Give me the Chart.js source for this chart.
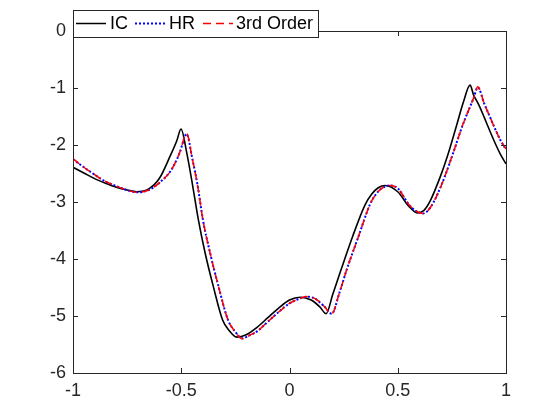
<html>
<script src="https://cdn.jsdelivr.net/npm/chart.js@4.4.0/dist/chart.umd.min.js"></script>
<body style="margin:0;background:#fff">
<div style="width:560px;height:420px"><canvas id="myChart"></canvas></div>
<script>
// tick values and labels
const xTicks = [-1, -0.5, 0, 0.5, 1];
const xTickLabels = ['-1', '-0.5', '0', '0.5', '1'];
const yTicks = [-6, -5, -4, -3, -2, -1, 0];
const yTickLabels = ['-6', '-5', '-4', '-3', '-2', '-1', '0'];

// IC (black solid)
const xIC = [-1, -0.95, -0.9, -0.85, -0.8, -0.75, -0.706, -0.65, -0.6, -0.552, -0.521, -0.501, -0.475, -0.447, -0.421, -0.39, -0.352, -0.309, -0.28, -0.244, -0.2, -0.15, -0.1, -0.05, 0, 0.05, 0.1, 0.14, 0.169, 0.2, 0.238, 0.292, 0.349, 0.38, 0.41, 0.441, 0.5, 0.55, 0.59, 0.62, 0.65, 0.7, 0.73, 0.77, 0.803, 0.834, 0.85, 0.875, 0.9, 0.925, 0.95, 0.975, 1];
const yIC = [-2.39, -2.49, -2.59, -2.67, -2.74, -2.79, -2.82, -2.77, -2.58, -2.2, -1.93, -1.72, -2.13, -2.72, -3.31, -3.89, -4.48, -5.07, -5.25, -5.37, -5.33, -5.2, -5.03, -4.86, -4.72, -4.67, -4.72, -4.84, -4.96, -4.62, -4.19, -3.6, -3.05, -2.86, -2.75, -2.71, -2.82, -3.07, -3.19, -3.15, -2.98, -2.52, -2.19, -1.68, -1.25, -0.95, -1.12, -1.3, -1.52, -1.75, -1.97, -2.17, -2.33];

// HR (blue dotted)
const xHR = [-1, -0.95, -0.9, -0.86, -0.8, -0.75, -0.7, -0.65, -0.6, -0.55, -0.52, -0.506, -0.475, -0.45, -0.424, -0.4, -0.367, -0.328, -0.284, -0.25, -0.218, -0.18, -0.15, -0.1, -0.05, 0, 0.05, 0.08, 0.12, 0.16, 0.195, 0.23, 0.264, 0.319, 0.372, 0.4, 0.43, 0.464, 0.5, 0.557, 0.617, 0.65, 0.7, 0.755, 0.8, 0.85, 0.87, 0.9, 0.925, 0.95, 0.975, 1];
const yHR = [-2.25, -2.39, -2.52, -2.62, -2.72, -2.79, -2.83, -2.79, -2.66, -2.46, -2.25, -2.12, -1.81, -2.22, -2.72, -3.31, -3.89, -4.48, -5.07, -5.28, -5.39, -5.33, -5.27, -5.1, -4.93, -4.78, -4.69, -4.66, -4.7, -4.83, -4.96, -4.6, -4.19, -3.6, -3.04, -2.86, -2.75, -2.71, -2.76, -3.07, -3.2, -3.1, -2.72, -2.15, -1.65, -1.18, -0.99, -1.28, -1.5, -1.72, -1.92, -2.08];

// 3rd Order (red dashed)
const x3rd = [-1, -0.95, -0.9, -0.86, -0.8, -0.75, -0.7, -0.65, -0.6, -0.55, -0.52, -0.506, -0.475, -0.45, -0.424, -0.4, -0.367, -0.328, -0.284, -0.25, -0.218, -0.18, -0.15, -0.1, -0.05, 0, 0.05, 0.08, 0.12, 0.16, 0.195, 0.23, 0.264, 0.319, 0.372, 0.4, 0.43, 0.464, 0.5, 0.557, 0.617, 0.65, 0.7, 0.755, 0.8, 0.85, 0.87, 0.9, 0.925, 0.95, 0.975, 1];
const y3rd = [-2.24, -2.39, -2.52, -2.62, -2.72, -2.79, -2.83, -2.79, -2.66, -2.46, -2.25, -2.12, -1.8, -2.22, -2.72, -3.31, -3.89, -4.48, -5.07, -5.28, -5.4, -5.33, -5.27, -5.1, -4.93, -4.78, -4.69, -4.66, -4.7, -4.83, -4.96, -4.6, -4.19, -3.6, -3.04, -2.86, -2.75, -2.71, -2.76, -3.07, -3.2, -3.1, -2.72, -2.15, -1.65, -1.18, -0.98, -1.28, -1.5, -1.72, -1.92, -2.07];

const pts = (xs, ys) => xs.map((v, i) => ({x: v, y: ys[i]}));

const axisColor = '#262626';
const font = {family: 'Liberation Sans, Arial, sans-serif', size: 18};

const legendItems = [
    {label: 'IC', color: '#000000', dash: [], width: 1.5, lineX: 76, textX: 110},
    {label: 'HR', color: '#0000ff', dash: [2, 2], width: 2, lineX: 135, textX: 169},
    {label: '3rd Order', color: '#ff0000', dash: [8, 5], width: 1.5, lineX: 203, textX: 236}
];

const framePlugin = {
    id: 'frame',
    afterDraw(chart) {
        const ctx = chart.ctx;
        const {left, right, top, bottom} = chart.chartArea;
        const xs = chart.scales.x, ys = chart.scales.y;
        ctx.save();
        ctx.strokeStyle = axisColor;
        ctx.lineWidth = 1;
        ctx.setLineDash([]);
        ctx.strokeRect(Math.round(left) + 0.5, Math.round(top) + 0.5, Math.round(right - left), Math.round(bottom - top));
        ctx.beginPath();
        xTicks.forEach(v => {
            const p = Math.round(xs.getPixelForValue(v)) + 0.5;
            ctx.moveTo(p, bottom); ctx.lineTo(p, bottom - 5);
            ctx.moveTo(p, top); ctx.lineTo(p, top + 5);
        });
        yTicks.forEach(v => {
            const p = Math.round(ys.getPixelForValue(v)) + 0.5;
            ctx.moveTo(left, p); ctx.lineTo(left + 5, p);
            ctx.moveTo(right, p); ctx.lineTo(right - 5, p);
        });
        ctx.stroke();

        // legend box
        const lx = 73.5, ly = 10.5, lw = 245, lh = 27;
        ctx.fillStyle = '#ffffff';
        ctx.fillRect(lx, ly, lw, lh);
        ctx.strokeStyle = axisColor;
        ctx.strokeRect(lx, ly, lw, lh);
        ctx.font = font.size + 'px ' + font.family;
        ctx.textBaseline = 'middle';
        const cy = 23.5;
        legendItems.forEach(it => {
            ctx.beginPath();
            ctx.strokeStyle = it.color;
            ctx.lineWidth = it.width;
            ctx.setLineDash(it.dash);
            ctx.moveTo(it.lineX, cy); ctx.lineTo(it.lineX + 30, cy);
            ctx.stroke();
            ctx.setLineDash([]);
            ctx.fillStyle = '#000000';
            ctx.fillText(it.label, it.textX, cy + 1);
        });
        ctx.restore();
    }
};

new Chart('myChart', {
    type: 'line',
    data: {
        datasets: [
            {label: 'IC', data: pts(xIC, yIC), borderColor: '#000000', borderWidth: 1.6, order: 3},
            {label: 'HR', data: pts(xHR, yHR), borderColor: '#0000ff', borderWidth: 2, borderDash: [2, 2], order: 2},
            {label: '3rd Order', data: pts(x3rd, y3rd), borderColor: '#ff0000', borderWidth: 1.5, borderDash: [8, 5], order: 1}
        ]
    },
    options: {
        responsive: true,
        maintainAspectRatio: false,
        animation: false,
        elements: {point: {radius: 0}, line: {cubicInterpolationMode: 'monotone'}},
        layout: {padding: {left: 0, top: 31, right: 54, bottom: 0}},
        plugins: {legend: {display: false}, tooltip: {enabled: false}},
        scales: {
            x: {
                type: 'linear', min: -1, max: 1,
                afterBuildTicks: s => { s.ticks = xTicks.map(v => ({value: v})); },
                afterFit: s => { s.height = 47; },
                grid: {display: false, drawTicks: false},
                border: {display: false},
                ticks: {color: axisColor, font: font, padding: 7, maxRotation: 0,
                    callback: (v, i) => xTickLabels[i]}
            },
            y: {
                type: 'linear', min: -6, max: 0,
                afterBuildTicks: s => { s.ticks = yTicks.map(v => ({value: v})); },
                afterFit: s => { s.width = 73; },
                grid: {display: false, drawTicks: false},
                border: {display: false},
                ticks: {color: axisColor, font: font, padding: 7,
                    callback: (v, i) => yTickLabels[i]}
            }
        }
    },
    plugins: [framePlugin]
});
</script>
</body>
</html>
